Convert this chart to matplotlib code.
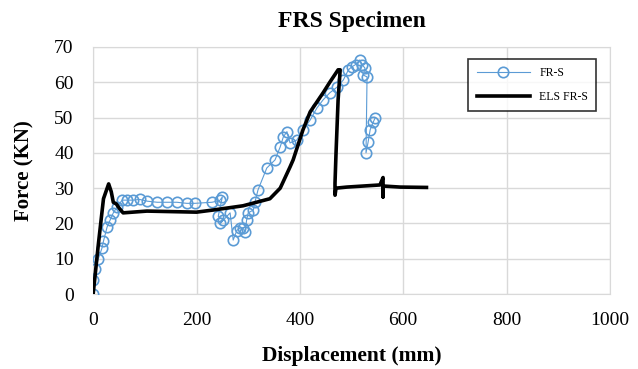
import matplotlib
import matplotlib.pyplot as plt

matplotlib.use("Agg")

plt.rcParams["font.family"] = ["Liberation Serif", "DejaVu Serif"]

# FR-S test data (displacement mm, force kN)
frs_disp = [0, 0, 4, 10, 17, 20, 27, 33, 39, 46, 56, 65, 77, 90, 105, 124, 143, 162,
            181, 197, 230, 245, 250, 242, 252, 246, 265, 271, 278, 284, 290, 294,
            297, 300, 310, 313, 319, 336, 352, 362, 368, 375, 381, 394, 406, 420,
            433, 445, 458, 472, 484, 494, 500, 508, 516, 520, 526, 523, 530, 528,
            532, 536, 542, 546]
frs_force = [0, 4, 7, 10, 13, 15, 19, 21, 23, 24.6, 26.6, 26.6, 26.6, 26.8, 26.3, 26,
             26, 26, 25.7, 25.7, 26, 26.5, 27.5, 22, 21, 20, 23, 15.3, 18, 18.7, 18.7,
             17.6, 21, 23, 23.8, 26, 29.5, 35.7, 38, 41.7, 44.5, 46, 42.8, 43.6, 46.5,
             49.3, 52.7, 55, 57, 58.6, 60.6, 63.5, 64.3, 65, 66.3, 65, 64, 62, 61.5,
             40, 43, 46.5, 48.7, 50]

# ELS model curve
els_disp = [0, 10, 20, 30, 35, 39, 45, 50, 58, 104, 168, 200, 232, 290, 342, 362,
            381, 387, 406, 420, 445, 458, 474, 478, 474, 470, 468, 468, 470, 491, 555,
            561, 561, 561, 594, 645]
els_force = [0, 14, 27, 31.2, 29, 26, 25.5, 24.4, 23, 23.5, 23.3, 23.2, 23.8, 25,
             27, 30, 36, 38, 46.5, 51.6, 57, 60, 63.5, 63.5, 55, 40, 31.4, 28, 30,
             30.3, 30.9, 33, 27.5, 30.6, 30.3, 30.2]

fig = plt.figure(figsize=(6.38, 3.69), dpi=100)
ax = fig.add_axes([0.146, 0.203, 0.81, 0.67])

ax.plot(frs_disp, frs_force, color="#5B9BD5", linewidth=0.8, marker="o",
        markersize=7.5, markerfacecolor="none", markeredgecolor="#5B9BD5",
        markeredgewidth=1.2, label="FR-S", zorder=3)
ax.plot(els_disp, els_force, color="black", linewidth=2.6, label="ELS FR-S", zorder=4)

ax.set_xlim(0, 1000)
ax.set_ylim(0, 70)
ax.set_xticks(range(0, 1001, 200))
ax.set_yticks(range(0, 71, 10))
ax.grid(color="#d9d9d9", linewidth=1.0)
ax.set_axisbelow(True)
for spine in ax.spines.values():
    spine.set_color("#d9d9d9")
ax.tick_params(length=0, labelsize=14)
ax.tick_params(axis="x", pad=13)
ax.tick_params(axis="y", pad=14)

ax.set_title("FRS Specimen", fontsize=17, fontweight="bold", pad=14)
ax.set_xlabel("Displacement (mm)", fontsize=15.5, fontweight="bold", labelpad=12)
ax.set_ylabel("Force (KN)", fontsize=15, fontweight="bold", labelpad=14)

leg = ax.legend(loc="upper right", bbox_to_anchor=(0.985, 0.975), fontsize=8.5,
                frameon=True, fancybox=False, edgecolor="black", handlelength=4.5,
                borderpad=0.7, labelspacing=1.0)
leg.get_frame().set_linewidth(1.2)

fig.savefig("out.png", dpi=100)
